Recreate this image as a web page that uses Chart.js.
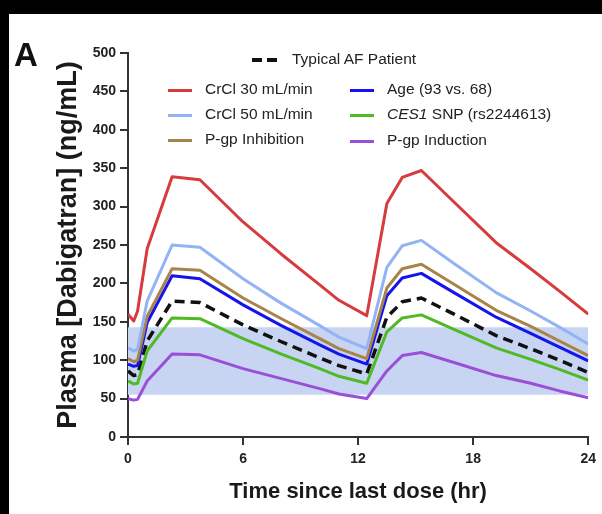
<!DOCTYPE html>
<html>
<head>
<meta charset="utf-8">
<script src="https://cdn.jsdelivr.net/npm/chart.js@4.4.1/dist/chart.umd.min.js"></script>
<style>
    body { margin: 0; background: #fff; }
    #wrap { position: relative; width: 602px; height: 514px; overflow: hidden; font-family: "Liberation Sans", Arial, sans-serif; }
    #myChart { position: absolute; left: 0; top: 0; }
    .bar { position: absolute; background: #000; }
    .panel { position: absolute; left: 14px; top: 36px; font: bold 33px "Liberation Sans", Arial, sans-serif; color: #111; }
    .item { position: absolute; font-size: 15.5px; color: #222; white-space: nowrap; line-height: 18px; }
    .swatch { position: absolute; height: 3px; }
</style>
</head>
<body>
<div id="wrap">
    <canvas id="myChart" width="602" height="514"></canvas>
    <div class="bar" style="left:0;top:0;width:602px;height:14px"></div>
    <div class="bar" style="left:0;top:0;width:9px;height:514px"></div>
    <div class="panel">A</div>
    <div id="legend"></div>
</div>
<script>
// hours since last dose
const timePoints = [0, 0.3, 0.5, 1, 2.3, 3.75, 6, 8, 10, 11, 12.45, 13.5, 14.3, 15.3, 17, 19.2, 21, 22.5, 24];

// plasma dabigatran (ng/mL) for each scenario
const crcl30 = [160, 151, 164, 245, 339, 335, 280, 238, 198, 178, 158, 304, 338, 347, 306, 253, 219, 190, 160];
const crcl50 = [116, 112, 114, 177, 250, 247, 206, 174, 145, 130, 115, 221, 249, 256, 226, 188, 164, 143, 121];
const pgpInhibition = [102, 98, 100, 157, 219, 217, 181, 154, 128, 115, 102, 194, 219, 225, 199, 165, 144, 125, 106];
const age93 = [95, 92, 93, 149, 210, 206, 172, 145, 120, 108, 95, 184, 207, 213, 188, 156, 135, 117, 99];
const typicalAF = [86, 80, 81, 125, 177, 175, 146, 124, 103, 93, 82, 156, 176, 181, 160, 132, 115, 100, 84];
const ces1Snp = [73, 69, 70, 112, 155, 154, 128, 108, 89, 79, 70, 137, 155, 159, 140, 116, 101, 88, 74];
const pgpInduction = [50, 48, 49, 73, 108, 107, 89, 76, 63, 56, 50, 86, 106, 110, 97, 80, 70, 60, 51];

// shaded reference range
const bandTimes = [0, 24];
const bandLow = 55;
const bandHigh = 143;

const xTicks = [0, 6, 12, 18, 24];
const yTicks = [0, 50, 100, 150, 200, 250, 300, 350, 400, 450, 500];

const seriesLabels = ["Typical AF Patient", "CrCl 30 mL/min", "CrCl 50 mL/min", "P-gp Inhibition",
    "Age (93 vs. 68)", "CES1 SNP (rs2244613)", "P-gp Induction"];
const seriesValues = [typicalAF, crcl30, crcl50, pgpInhibition, age93, ces1Snp, pgpInduction];
const seriesColors = ["#111111", "#d63c3e", "#92b3f4", "#a8844a", "#1414ee", "#4fba25", "#9b4fd8"];

document.addEventListener("DOMContentLoaded", () => {
    const canvas = document.getElementById('myChart');
    const ctx = canvas.getContext('2d');
    buildLegend();
    createChart(ctx);
});

/**
 * Legend is laid out by hand: one centred entry and two columns below it
 */
function buildLegend() {
    const legend = document.getElementById('legend');
    const spots = [
        { x: 252, y: 60, dashed: true },
        { x: 168, y: 90 }, { x: 168, y: 115 }, { x: 168, y: 140 },
        { x: 350, y: 90 }, { x: 350, y: 115 }, { x: 350, y: 141 }
    ];
    seriesLabels.forEach((label, i) => {
        const s = spots[i];
        if (s.dashed) {
            [0, 15].forEach(off => {
                const d = document.createElement('div');
                d.className = 'swatch';
                d.style.cssText = `left:${s.x + off}px;top:${s.y - 2}px;width:10px;height:4px;background:${seriesColors[i]}`;
                legend.appendChild(d);
            });
        } else {
            const d = document.createElement('div');
            d.className = 'swatch';
            d.style.cssText = `left:${s.x}px;top:${s.y - 1}px;width:24px;background:${seriesColors[i]}`;
            legend.appendChild(d);
        }
        const t = document.createElement('div');
        t.className = 'item';
        t.style.left = (s.dashed ? s.x + 40 : s.x + 37) + 'px';
        t.style.top = (s.y - 10) + 'px';
        // the gene name is italic in the original
        t.innerHTML = label.startsWith('CES1') ? '<i>CES1</i>' + label.slice(4) : label;
        legend.appendChild(t);
    });
}

function createChart(ctx) {
    const lineSets = seriesValues.map((values, i) => ({
        label: seriesLabels[i],
        data: values.map((v, j) => ({ x: timePoints[j], y: v })),
        borderColor: seriesColors[i],
        backgroundColor: "rgba(0,0,0,0)",
        borderWidth: i === 0 ? 3.5 : 3,
        borderDash: i === 0 ? [10, 6] : [],
        pointRadius: 0,
        tension: 0,
        borderJoinStyle: 'round',
        fill: false,
        order: 0
    }));

    // draw the dashed typical line last so it sits on top
    lineSets.push(lineSets.shift());

    const band = {
        label: 'range',
        data: bandTimes.map(t => ({ x: t, y: bandHigh })),
        borderWidth: 0,
        pointRadius: 0,
        backgroundColor: '#c7d5f2',
        fill: { value: bandLow },
        order: 5
    };

    const tickFont = { family: "'Liberation Sans', Arial, sans-serif", size: 14, weight: 'bold' };

    new Chart(ctx, {
        type: 'line',
        data: { datasets: [...lineSets, band] },
        options: {
            responsive: false,
            animation: false,
            layout: { padding: { top: 53, left: 40, right: 13, bottom: 0 } },
            plugins: {
                legend: { display: false },
                tooltip: { enabled: false }
            },
            scales: {
                x: {
                    type: 'linear',
                    min: 0,
                    max: 24,
                    afterBuildTicks: scale => { scale.ticks = xTicks.map(v => ({ value: v })); },
                    afterFit: scale => { scale.height = 77; },
                    ticks: { font: tickFont, color: '#222', padding: 6, maxRotation: 0 },
                    grid: { drawOnChartArea: false, tickLength: 8, color: '#333', lineWidth: 2 },
                    border: { color: '#333', width: 2 },
                    title: {
                        display: true,
                        text: 'Time since last dose (hr)',
                        color: '#1a1a1a',
                        font: { family: "'Liberation Sans', Arial, sans-serif", size: 22, weight: 'bold' },
                        padding: { top: 0, bottom: 9 }
                    }
                },
                y: {
                    min: 0,
                    max: 500,
                    afterBuildTicks: scale => { scale.ticks = yTicks.map(v => ({ value: v })); },
                    afterFit: scale => { scale.width = 88; },
                    ticks: { font: tickFont, color: '#222', padding: 4 },
                    grid: { drawOnChartArea: false, tickLength: 8, color: '#333', lineWidth: 2 },
                    border: { color: '#333', width: 2 },
                    title: {
                        display: true,
                        text: 'Plasma [Dabigatran] (ng/mL)',
                        color: '#1a1a1a',
                        font: { family: "'Liberation Sans', Arial, sans-serif", size: 27, weight: 'bold' },
                        padding: { top: 12, bottom: 0 }
                    }
                }
            }
        }
    });
}
</script>
</body>
</html>
